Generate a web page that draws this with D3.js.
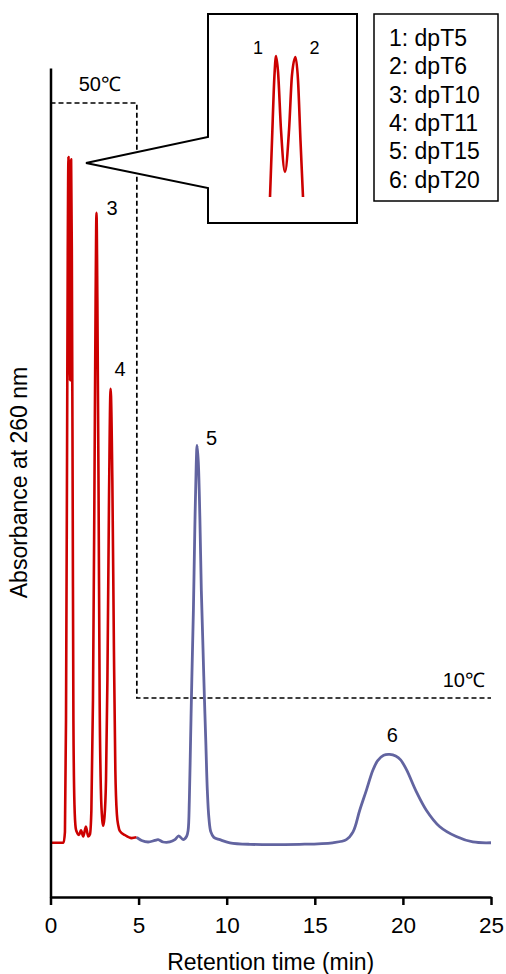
<!DOCTYPE html>
<html>
<head>
<meta charset="utf-8">
<script src="https://cdn.jsdelivr.net/npm/d3@7"></script>
<style>
  body { margin: 0; background: #fff; }
  svg { font-family: "Liberation Sans", Arial, sans-serif; }
</style>
</head>
<body>
<div id="chart"></div>
<script>
// chromatogram trace: time (min) and absorbance (a.u.)
const redTime = [0, 0.54, 0.74, 0.82, 0.88, 0.94, 0.98, 1.02, 1.07, 1.11, 1.14, 1.17, 1.21, 1.26, 1.30, 1.36,
  1.43, 1.49, 1.62, 1.73, 1.86, 2.01, 2.14, 2.24, 2.32, 2.41, 2.49, 2.56, 2.61, 2.66, 2.73, 2.79, 2.86,
  2.94, 2.99, 3.06, 3.15, 3.23, 3.32, 3.41, 3.51, 3.60, 3.68, 3.77, 3.85, 3.94, 4.22, 4.60, 4.89];
const redAbs = [0, 0, 0, 0.014, 0.158, 0.507, 0.765, 0.885, 0.752, 0.597, 0.752, 0.882, 0.765, 0.442, 0.158, 0.049,
  0.019, 0.014, 0.010, 0.016, 0.008, 0.021, 0.008, 0.011, 0.042, 0.184, 0.442, 0.700, 0.813, 0.700, 0.442, 0.184, 0.068,
  0.029, 0.022, 0.032, 0.081, 0.210, 0.442, 0.586, 0.468, 0.249, 0.094, 0.036, 0.022, 0.015, 0.010, 0.006, 0.007];

const blueTime = [4.89, 5.17, 5.54, 5.92, 6.11, 6.39, 6.77, 7.06, 7.28, 7.53, 7.72, 7.81, 7.88, 7.95, 8.02, 8.11,
  8.19, 8.27, 8.32, 8.39, 8.48, 8.56, 8.65, 8.73, 8.82, 8.90, 8.99, 9.10, 9.27, 9.61, 10.18, 11.31, 14.14,
  16.01, 16.79, 17.17, 17.55, 17.93, 18.30, 18.57, 18.91, 19.25, 19.59, 19.87, 20.21, 20.76, 21.33, 22.08, 23.03, 23.97, 25];
const blueAbs = [0.007, 0.003, 0.001, 0.003, 0.004, 0.001, 0.001, 0.004, 0.009, 0.004, 0.008, 0.016, 0.055, 0.133, 0.210, 0.300,
  0.404, 0.488, 0.513, 0.491, 0.417, 0.326, 0.255, 0.191, 0.126, 0.068, 0.032, 0.014, 0.007, 0.004, 0.000, -0.002, -0.002,
  0, 0.004, 0.014, 0.042, 0.068, 0.094, 0.106, 0.113, 0.114, 0.112, 0.107, 0.094, 0.066, 0.042, 0.021, 0.008, 0.001, 0];

// zoomed view of peaks 1 and 2
const insetTime = [0.92, 0.944, 0.973, 0.991, 1.015, 1.05, 1.097, 1.145, 1.18, 1.221, 1.251, 1.28, 1.31];
const insetAbs = [0.6, 0.718, 0.853, 0.892, 0.859, 0.739, 0.652, 0.739, 0.853, 0.89, 0.842, 0.718, 0.6];

// column temperature program
const tempTime = [0, 4.9, 4.9, 25];
const tempC = [50, 50, 10, 10];

const peakNames = ['1', '2', '3', '4', '5', '6'];
const peakTime = [1.02, 1.17, 2.61, 3.41, 8.32, 19.25];
const peakAbs = [0.885, 0.882, 0.813, 0.586, 0.513, 0.114];
const legendLabels = ['1: dpT5', '2: dpT6', '3: dpT10', '4: dpT11', '5: dpT15', '6: dpT20'];
const xTicks = [0, 5, 10, 15, 20, 25];

const width = 506, height = 974;
const svg = d3.select('#chart').append('svg')
  .attr('width', width)
  .attr('height', height);

const x = d3.scaleLinear().domain([0, 25]).range([50.5, 491]);
const y = d3.scaleLinear().domain([-0.07, 1]).range([897, 68]);
const yTemp = d3.scaleLinear().domain([10, 50]).range([698, 103]);

const line = d3.line()
  .x(d => x(d[0]))
  .y(d => y(d[1]))
  .curve(d3.curveMonotoneX);

// temperature step (dashed)
svg.append('path')
  .datum(tempTime.map((t, i) => [t, tempC[i]]))
  .attr('d', d3.line().x(d => x(d[0])).y(d => yTemp(d[1])))
  .style('fill', 'none')
  .style('stroke', '#000')
  .style('stroke-width', 1.7)
  .style('stroke-dasharray', '5,3');

svg.append('text')
  .attr('x', x(1.6)).attr('y', yTemp(50) - 12)
  .style('font-size', '20px')
  .text('50℃');
svg.append('text')
  .attr('x', x(25) - 6).attr('y', yTemp(10) - 11)
  .style('text-anchor', 'end')
  .style('font-size', '20px')
  .text('10℃');

// traces
svg.append('path')
  .datum(redTime.map((t, i) => [t, redAbs[i]]))
  .attr('d', line)
  .style('fill', 'none')
  .style('stroke', '#cc0000')
  .style('stroke-width', 2.6)
  .style('stroke-linejoin', 'round');

svg.append('path')
  .datum(blueTime.map((t, i) => [t, blueAbs[i]]))
  .attr('d', line.curve(d3.curveCatmullRom.alpha(0.5)))
  .style('fill', 'none')
  .style('stroke', '#6264a0')
  .style('stroke-width', 2.8)
  .style('stroke-linejoin', 'round');

// peak labels 3-6
const labelOffset = [[0, 0], [0, 0], [10, 2], [4, -13], [9, 0], [-3, -12]];
peakNames.forEach((name, i) => {
  if (i < 2) return;
  svg.append('text')
    .attr('x', x(peakTime[i]) + labelOffset[i][0])
    .attr('y', y(peakAbs[i]) + labelOffset[i][1])
    .style('font-size', '20px')
    .text(name);
});

// axes
const xAxis = svg.append('g')
  .attr('transform', 'translate(0,897)')
  .call(d3.axisBottom(x).tickValues(xTicks).tickSize(8).tickSizeOuter(0).tickPadding(12));
xAxis.select('.domain').style('stroke-width', 2.5);
xAxis.selectAll('.tick line').style('stroke-width', 2.5);
xAxis.selectAll('text').style('font-size', '22.5px').style('font-family', '"Liberation Sans", Arial, sans-serif');

const yAxis = svg.append('g')
  .attr('transform', 'translate(50.5,0)')
  .call(d3.axisLeft(y).ticks(0).tickSizeOuter(0));
yAxis.select('.domain').style('stroke-width', 2.5);

svg.append('text')
  .attr('x', (x(0) + x(25)) / 2).attr('y', 970)
  .style('text-anchor', 'middle')
  .style('font-size', '23px')
  .text('Retention time (min)');

svg.append('text')
  .attr('transform', `translate(27,${(y(-0.07) + y(1)) / 2}) rotate(-90)`)
  .style('text-anchor', 'middle')
  .style('font-size', '23px')
  .text('Absorbance at 260 nm');

// inset box with pointer to peaks 1/2
svg.append('path')
  .attr('d', 'M208,137 L208,14 L357,14 L357,223 L208,223 L208,188 L86,163 Z')
  .style('fill', '#fff')
  .style('stroke', '#000')
  .style('stroke-width', 2);

const ix = d3.scaleLinear().domain([0.92, 1.31]).range([270, 303]);
const iy = d3.scaleLinear().domain([0.6, 0.89]).range([197, 57]);
svg.append('path')
  .datum(insetTime.map((t, i) => [t, insetAbs[i]]))
  .attr('d', d3.line().x(d => ix(d[0])).y(d => iy(d[1])).curve(d3.curveMonotoneX))
  .style('fill', 'none')
  .style('stroke', '#cc0000')
  .style('stroke-width', 2.6);

svg.append('text')
  .attr('x', ix(0.991) - 23).attr('y', iy(0.892) - 2)
  .style('font-size', '18px')
  .text(peakNames[0]);
svg.append('text')
  .attr('x', ix(1.221) + 14).attr('y', iy(0.89) - 3)
  .style('font-size', '18px')
  .text(peakNames[1]);

// legend
svg.append('rect')
  .attr('x', 374).attr('y', 14)
  .attr('width', 124).attr('height', 187)
  .style('fill', '#fff')
  .style('stroke', '#000')
  .style('stroke-width', 1.5);

svg.selectAll('.legend')
  .data(legendLabels)
  .enter().append('text')
  .attr('class', 'legend')
  .attr('x', 389)
  .attr('y', (d, i) => 46 + i * 28.3)
  .style('font-size', '23px')
  .text(d => d);
</script>
</body>
</html>
